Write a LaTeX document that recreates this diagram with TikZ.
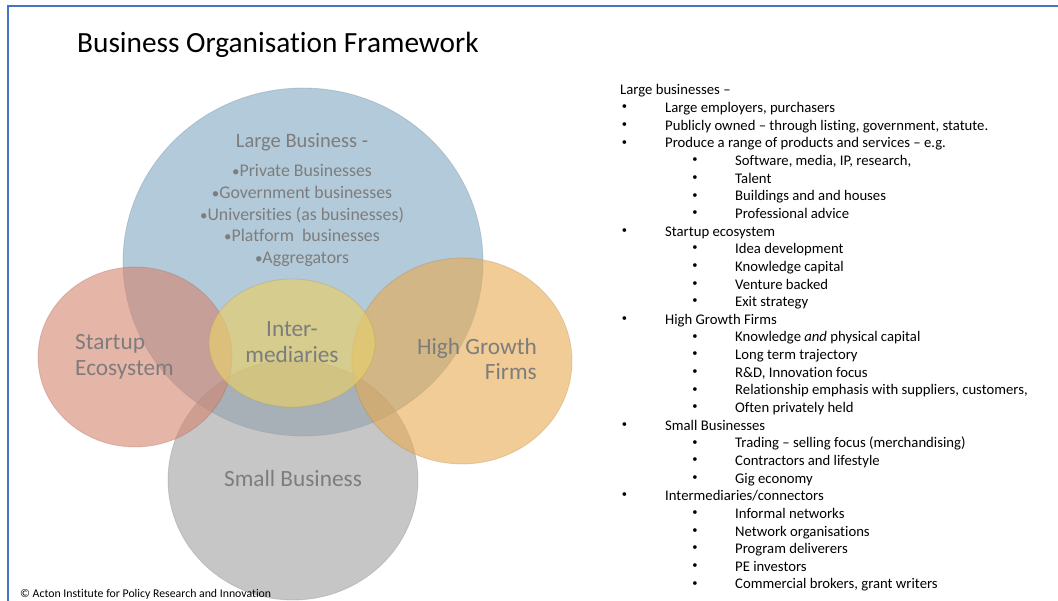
\documentclass[tikz,border=0pt]{standalone}
\usepackage{fontspec}
\setmainfont{Carlito}[Ligatures=CommonOff]
\usetikzlibrary{shapes.geometric}
\definecolor{frameblue}{HTML}{4472C4}
\definecolor{cblue}{RGB}{127,167,193}
\definecolor{cred}{RGB}{212,132,110}
\definecolor{cyel}{RGB}{228,205,110}
\definecolor{corange}{RGB}{232,170,80}
\definecolor{cgray}{RGB}{160,160,160}
\definecolor{ctext}{RGB}{125,125,125}
\tikzset{
  disc/.style={fill opacity=0.6, draw opacity=0.25, line width=0.8pt},
  lbl/.style={text=ctext, inner sep=0pt, font=\fontsize{23.3}{28}\selectfont},
  lbs/.style={text=ctext, inner sep=0pt, anchor=base, font=\fontsize{17.8}{21}\selectfont},
  bul/.style={inner sep=0pt, anchor=center, font=\fontsize{10.5}{12}\selectfont},
  itm/.style={inner sep=0pt, anchor=base west, font=\fontsize{14.7}{17}\selectfont},
}
\newcommand\sbul{{\fontsize{15}{17}\selectfont\raisebox{0.3pt}{•}}}
\newcommand\lvlzero[2]{\node[itm] (t#1) at (620,{95+17.64*#1}) {#2};}
\newcommand\lvlone[2]{\node[bul] (b#1) at (624.5,{89.8+17.64*#1}) {•};\node[itm] (t#1) at (665,{95+17.64*#1}) {#2};}
\newcommand\lvltwo[2]{\node[bul] (b#1) at (695,{89.8+17.64*#1}) {•};\node[itm] (t#1) at (735,{95+17.64*#1}) {#2};}
\begin{document}
\begin{tikzpicture}[x=1pt,y=-1pt]
\useasboundingbox (0,0) rectangle (1058,601);
\fill[white] (0,0) rectangle (1058,601);
% frame
\draw[frameblue, line width=2pt] (8,601) -- (8,6.5) -- (1058,6.5);
% title
\node[inner sep=0pt, anchor=base west, font=\fontsize{29.3}{35}\selectfont] (title) at (77,53) {Business Organisation Framework};
% discs
\path[disc, fill=cblue, draw=cblue!70!black] (303,262) ellipse [x radius=180, y radius=174];
\path[disc, fill=cgray, draw=cgray!70!black] (293,480) ellipse [x radius=125, y radius=120];
\path[disc, fill=cred, draw=cred!70!black] (135,357) ellipse [x radius=97, y radius=90];
\path[disc, fill=corange, draw=corange!70!black] (462,361) ellipse [x radius=110, y radius=103];
\path[fill=cyel, fill opacity=0.7, draw=cyel!70!black, draw opacity=0.25, line width=0.8pt] (292,343) ellipse [x radius=83, y radius=64];
% circle labels
\node[lbl, anchor=base] (lb) at (302,148) {\fontsize{20.5}{24}\selectfont Large Business -};
\node[lbs] (lb1) at (302,177) {\sbul Private Businesses};
\node[lbs] (lb2) at (302,199) {\sbul Government businesses};
\node[lbs] (lb3) at (302,221) {\sbul Universities (as businesses)};
\node[lbs] (lb4) at (302,242) {\sbul Platform\ \ businesses};
\node[lbs] (lb5) at (302,264) {\sbul Aggregators};
\node[lbl, anchor=base west] (st1) at (75,350) {Startup};
\node[lbl, anchor=base west] (st2) at (75,376) {Ecosystem};
\node[lbl, anchor=base] (im1) at (292,337) {Inter-};
\node[lbl, anchor=base] (im2) at (292,363) {mediaries};
\node[lbl, anchor=base east] (hg1) at (537,355) {High Growth};
\node[lbl, anchor=base east] (hg2) at (537,380) {Firms};
\node[lbl, anchor=base] (sb) at (293,486) {Small Business};
% copyright
\node[inner sep=0pt, anchor=base west, font=\fontsize{11.8}{14}\selectfont] (copy) at (20,597) {© Acton Institute for Policy Research and Innovation};
% right list
\lvlzero{0}{Large businesses –}
\lvlone{1}{Large employers, purchasers}
\lvlone{2}{Publicly owned – through listing, government, statute.}
\lvlone{3}{Produce a range of products and services – e.g.}
\lvltwo{4}{Software, media, IP, research,}
\lvltwo{5}{Talent}
\lvltwo{6}{Buildings and and houses}
\lvltwo{7}{Professional advice}
\lvlone{8}{Startup ecosystem}
\lvltwo{9}{Idea development}
\lvltwo{10}{Knowledge capital}
\lvltwo{11}{Venture backed}
\lvltwo{12}{Exit strategy}
\lvlone{13}{High Growth Firms}
\lvltwo{14}{Knowledge \textit{and} physical capital}
\lvltwo{15}{Long term trajectory}
\lvltwo{16}{R\&D, Innovation focus}
\lvltwo{17}{Relationship emphasis with suppliers, customers,}
\lvltwo{18}{Often privately held}
\lvlone{19}{Small Businesses}
\lvltwo{20}{Trading – selling focus (merchandising)}
\lvltwo{21}{Contractors and lifestyle}
\lvltwo{22}{Gig economy}
\lvlone{23}{Intermediaries/connectors}
\lvltwo{24}{Informal networks}
\lvltwo{25}{Network organisations}
\lvltwo{26}{Program deliverers}
\lvltwo{27}{PE investors}
\lvltwo{28}{Commercial brokers, grant writers}
\end{tikzpicture}
\end{document}
